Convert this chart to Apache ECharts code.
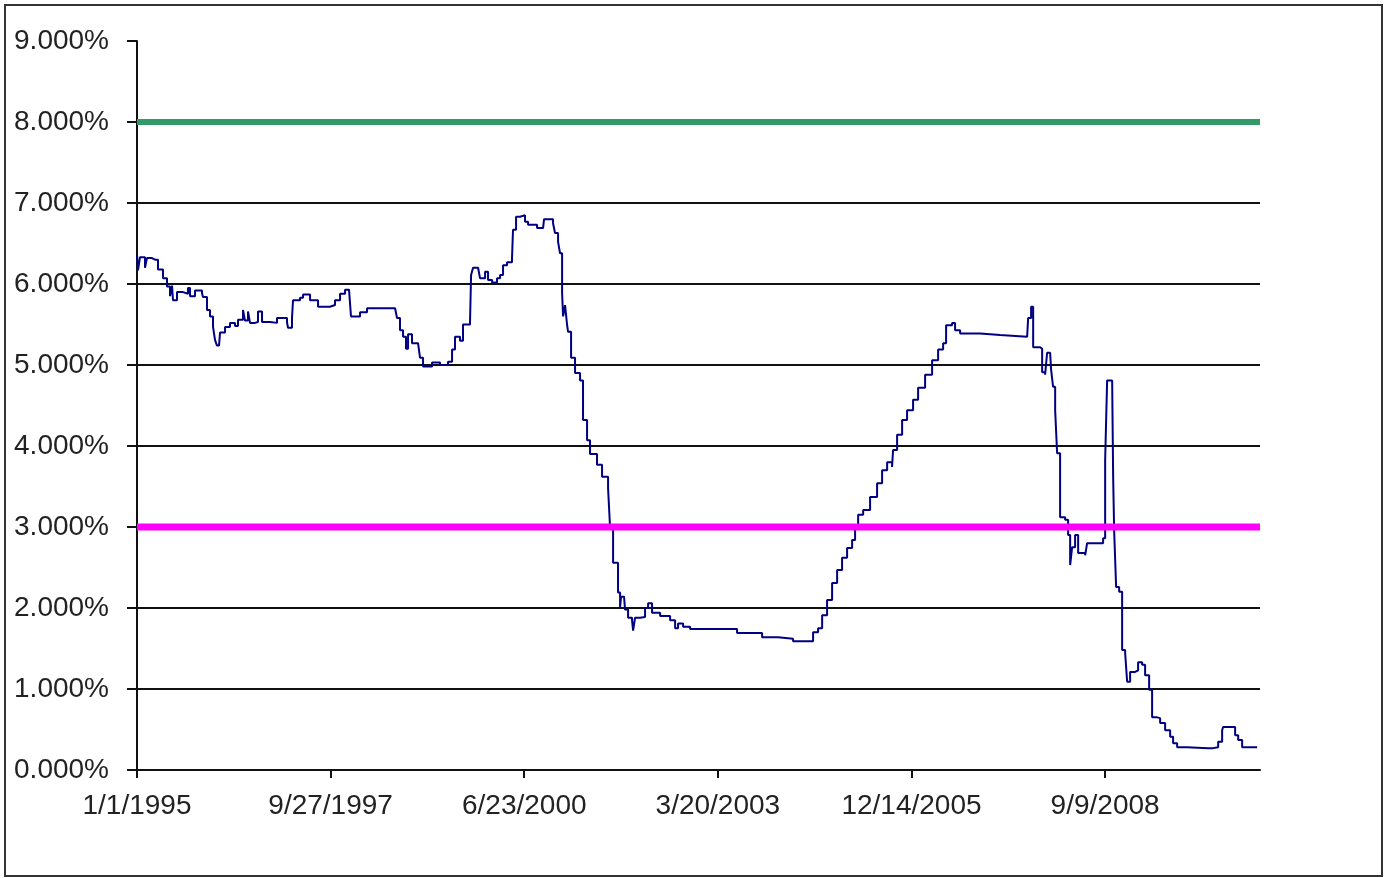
<!DOCTYPE html>
<html>
<head>
<meta charset="utf-8">
<script src="https://cdn.jsdelivr.net/npm/echarts@6/dist/echarts.min.js"></script>
<style>
  html, body { margin: 0; padding: 0; background: #fff; }
  #chart { width: 1384px; height: 878px; }
</style>
</head>
<body>
<div id="chart"></div>
<script>
const years = [
  1995.000, 1995.014, 1995.042, 1995.113, 1995.141, 1995.212, 1995.255, 1995.297, 1995.368, 1995.424,
  1995.467, 1995.495, 1995.509, 1995.566, 1995.651, 1995.721, 1995.750, 1995.820, 1995.919, 1995.933,
  1995.990, 1996.032, 1996.075, 1996.103, 1996.131, 1996.160, 1996.174, 1996.245, 1996.315, 1996.386,
  1996.428, 1996.499, 1996.527, 1996.570, 1996.598, 1996.669, 1996.711, 1996.768, 1996.881, 1996.980,
  1997.121, 1997.135, 1997.192, 1997.206, 1997.305, 1997.348, 1997.447, 1997.560, 1997.729, 1997.800,
  1997.871, 1997.942, 1997.998, 1998.026, 1998.154, 1998.253, 1998.649, 1998.677, 1998.719, 1998.762,
  1998.804, 1998.833, 1998.889, 1998.974, 1999.002, 1999.045, 1999.172, 1999.285, 1999.398, 1999.455,
  1999.497, 1999.568, 1999.610, 1999.709, 1999.724, 1999.752, 1999.823, 1999.851, 1999.922, 1999.964,
  2000.021, 2000.091, 2000.134, 2000.176, 2000.233, 2000.303, 2000.317, 2000.360, 2000.417, 2000.487,
  2000.530, 2000.657, 2000.742, 2000.756, 2000.883, 2000.911, 2000.954, 2000.982, 2001.011, 2001.025,
  2001.053, 2001.081, 2001.095, 2001.138, 2001.194, 2001.265, 2001.307, 2001.364, 2001.406, 2001.505,
  2001.576, 2001.661, 2001.689, 2001.732, 2001.802, 2001.831, 2001.845, 2001.887, 2001.901, 2001.944,
  2002.000, 2002.015, 2002.043, 2002.114, 2002.184, 2002.227, 2002.283, 2002.397, 2002.538, 2002.609,
  2002.651, 2002.722, 2002.821, 2003.217, 2003.485, 2003.839, 2004.065, 2004.277, 2004.518, 2004.560,
  2004.631, 2004.688, 2004.758, 2004.829, 2004.900, 2004.970, 2005.041, 2005.112, 2005.154, 2005.197,
  2005.268, 2005.366, 2005.465, 2005.536, 2005.607, 2005.677, 2005.691, 2005.748, 2005.819, 2005.889,
  2005.974, 2006.045, 2006.144, 2006.243, 2006.328, 2006.399, 2006.441, 2006.526, 2006.568, 2006.639,
  2006.922, 2007.205, 2007.587, 2007.601, 2007.643, 2007.672, 2007.770, 2007.799, 2007.841, 2007.869,
  2007.912, 2007.926, 2007.954, 2007.983, 2008.011, 2008.053, 2008.124, 2008.166, 2008.195, 2008.223,
  2008.265, 2008.308, 2008.407, 2008.435, 2008.619, 2008.661, 2008.690, 2008.718, 2008.789, 2008.803,
  2008.817, 2008.845, 2008.888, 2008.930, 2008.973, 2009.001, 2009.043, 2009.114, 2009.156, 2009.213,
  2009.255, 2009.312, 2009.354, 2009.425, 2009.467, 2009.538, 2009.609, 2009.651, 2009.708, 2009.849,
  2010.146, 2010.217, 2010.288, 2010.344, 2010.358, 2010.458, 2010.528, 2010.571, 2010.627, 2010.839
];
// Rate in percent
const rates = [
  6.36, 6.17, 6.33, 6.20, 6.32, 6.30, 6.30, 6.18, 6.07, 5.97,
  5.85, 5.98, 5.80, 5.90, 5.88, 5.95, 5.85, 5.92, 5.89, 5.84,
  5.68, 5.60, 5.47, 5.31, 5.24, 5.25, 5.40, 5.47, 5.52, 5.48,
  5.56, 5.68, 5.55, 5.66, 5.52, 5.53, 5.66, 5.53, 5.52, 5.58,
  5.53, 5.46, 5.58, 5.80, 5.83, 5.87, 5.80, 5.72, 5.74, 5.80,
  5.88, 5.93, 5.91, 5.60, 5.65, 5.70, 5.70, 5.58, 5.43, 5.35,
  5.20, 5.38, 5.27, 5.26, 5.09, 4.98, 5.03, 5.00, 5.04, 5.19,
  5.35, 5.30, 5.50, 5.53, 6.11, 6.20, 6.20, 6.07, 6.15, 6.05,
  6.02, 6.07, 6.11, 6.23, 6.27, 6.32, 6.67, 6.83, 6.85, 6.77,
  6.73, 6.69, 6.69, 6.80, 6.75, 6.63, 6.52, 6.38, 5.89, 5.60,
  5.74, 5.50, 5.41, 5.09, 4.90, 4.81, 4.32, 4.07, 3.90, 3.77,
  3.62, 3.48, 3.00, 2.56, 2.19, 2.01, 2.14, 2.14, 1.98, 1.88,
  1.85, 1.72, 1.88, 1.89, 2.00, 2.06, 1.94, 1.90, 1.85, 1.75,
  1.81, 1.77, 1.74, 1.74, 1.69, 1.64, 1.62, 1.59, 1.59, 1.70,
  1.75, 1.91, 2.10, 2.31, 2.47, 2.62, 2.74, 2.84, 3.00, 3.15,
  3.21, 3.37, 3.54, 3.70, 3.80, 3.74, 3.95, 4.14, 4.32, 4.44,
  4.57, 4.72, 4.88, 5.06, 5.19, 5.27, 5.49, 5.52, 5.43, 5.39,
  5.37, 5.35, 5.35, 5.58, 5.72, 5.22, 5.20, 4.91, 4.88, 5.15,
  5.15, 4.94, 4.73, 4.44, 3.91, 3.12, 3.09, 2.90, 2.53, 2.75,
  2.90, 2.68, 2.65, 2.80, 2.80, 2.86, 3.83, 4.81, 4.79, 3.62,
  2.96, 2.26, 2.20, 1.48, 1.44, 1.09, 1.21, 1.23, 1.33, 1.30,
  1.17, 0.99, 0.65, 0.64, 0.58, 0.49, 0.41, 0.33, 0.28, 0.27,
  0.27, 0.28, 0.35, 0.49, 0.53, 0.53, 0.43, 0.37, 0.28, 0.28
];
const xTickLabels = ['1/1/1995', '9/27/1997', '6/23/2000', '3/20/2003', '12/14/2005', '9/9/2008'];
const yTickLabels = ['0.000%', '1.000%', '2.000%', '3.000%', '4.000%', '5.000%', '6.000%', '7.000%', '8.000%', '9.000%'];
const upperLevel = [8, 8];
const lowerLevel = [3, 3];
const startYear = 1995;
const tickStepDays = 1000;
const endDays = 5800;

const toDays = y => (y - startYear) * 365.25;
const rateData = years.map((y, i) => [toDays(y), rates[i]]);
const upperData = [[0, upperLevel[0]], [endDays, upperLevel[1]]];
const lowerData = [[0, lowerLevel[0]], [endDays, lowerLevel[1]]];

const chart = echarts.init(document.getElementById('chart'), null, { renderer: 'canvas' });
const font = '"Liberation Sans", Arial, sans-serif';
chart.setOption({
  animation: false,
  backgroundColor: '#ffffff',
  graphic: [{
    type: 'rect', silent: true,
    shape: { x: 5, y: 5, width: 1377, height: 871 },
    style: { fill: null, stroke: '#333', lineWidth: 2 }
  }],
  grid: { left: 137, right: 124, top: 41, bottom: 108, containLabel: false },
  xAxis: {
    type: 'value', min: 0, max: endDays, interval: tickStepDays,
    axisLine: { show: true, onZero: false, lineStyle: { color: '#111', width: 2 } },
    axisTick: { show: true, length: 8, lineStyle: { color: '#111', width: 2 } },
    axisLabel: {
      margin: 22, fontFamily: font, fontSize: 28, color: '#222',
      showMaxLabel: false,
      formatter: v => (v % tickStepDays === 0 && xTickLabels[v / tickStepDays]) ? xTickLabels[v / tickStepDays] : ''
    },
    splitLine: { show: false }
  },
  yAxis: {
    type: 'value', min: 0, max: 9, interval: 1,
    axisLine: { show: true, lineStyle: { color: '#111', width: 2 } },
    axisTick: { show: true, length: 10, lineStyle: { color: '#111', width: 2 } },
    axisLabel: {
      margin: 28, fontFamily: font, fontSize: 28, color: '#222',
      formatter: v => yTickLabels[Math.round(v)] || ''
    },
    splitLine: { show: true, showMinLine: false, showMaxLine: false, lineStyle: { color: '#111', width: 2 } }
  },
  series: [
    {
      name: 'Rate', type: 'line', data: rateData, showSymbol: false, symbol: 'none', step: 'end',
      lineStyle: { color: '#000080', width: 2 }, itemStyle: { color: '#000080' }
    },
    {
      name: 'Upper', type: 'line', data: upperData, showSymbol: false, symbol: 'none',
      lineStyle: { color: '#339966', width: 6 }, itemStyle: { color: '#339966' }
    },
    {
      name: 'Lower', type: 'line', data: lowerData, showSymbol: false, symbol: 'none',
      lineStyle: { color: '#ff00ff', width: 7 }, itemStyle: { color: '#ff00ff' }
    }
  ]
});
</script>
</body>
</html>
